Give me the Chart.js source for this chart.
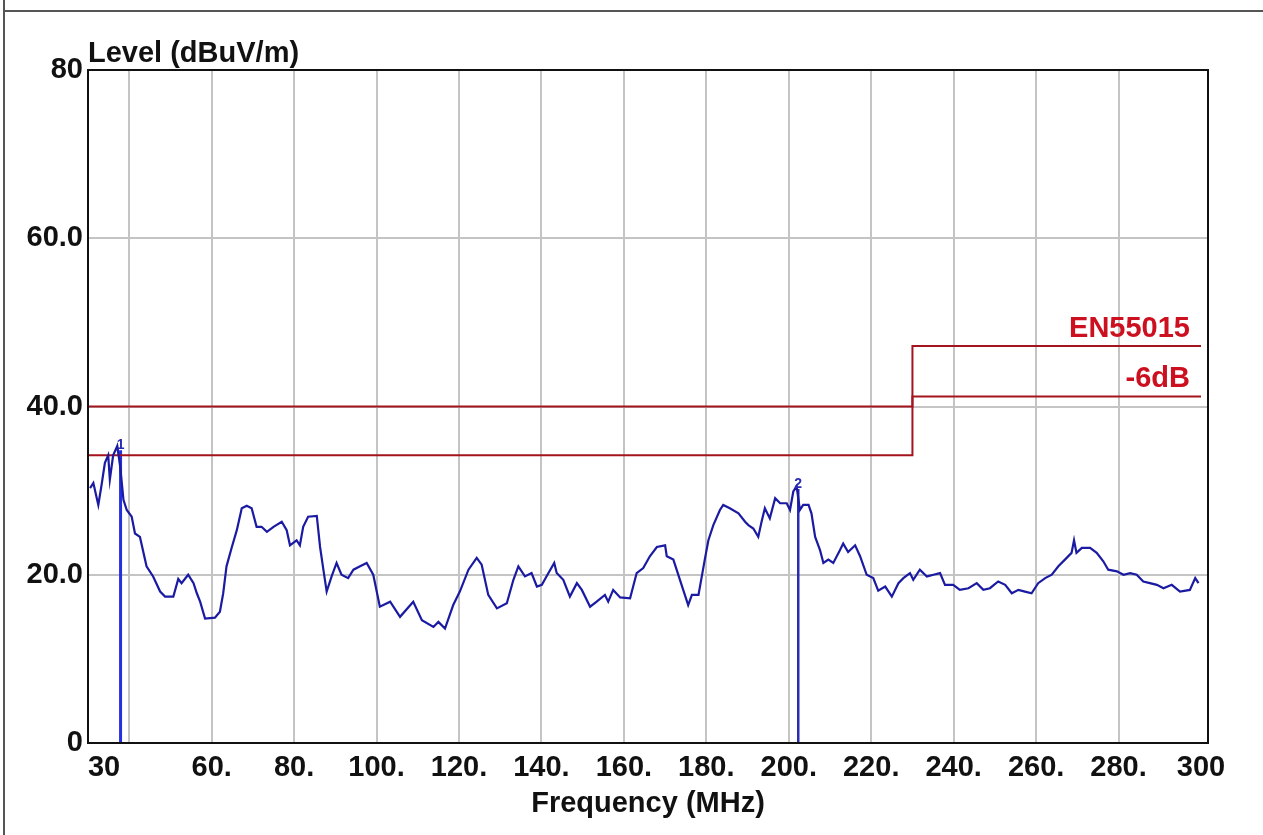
<!DOCTYPE html>
<html>
<head>
<meta charset="utf-8">
<script src="https://cdn.jsdelivr.net/npm/chart.js@4.4.1/dist/chart.umd.min.js"></script>
<style>
  html, body { margin: 0; padding: 0; background: #fff; }
  canvas { display: block; }
</style>
</head>
<body>
<canvas id="emc" width="1263" height="835"></canvas>
<script>
const freqMHz = [
  30.5, 31.3, 32.5, 33.3, 34.1, 34.9, 35.3, 36.1, 37.1, 37.8, 38.6, 39.4,
  40.6, 41.4, 42.6, 44.2, 45.8, 47.5, 48.7, 50.7, 51.9, 52.7, 54.3, 55.6,
  56.4, 57.2, 58.4, 60.8, 62.0, 62.8, 63.6, 64.9, 66.1, 67.3, 68.5, 69.7,
  70.9, 72.1, 73.4, 75.0, 77.0, 78.2, 79.0, 80.6, 81.4, 82.2, 83.4, 85.5,
  86.3, 87.1, 87.9, 89.1, 90.3, 91.5, 93.1, 94.4, 96.0, 97.6, 99.2, 100.8,
  103.3, 105.7, 108.9, 111.0, 113.8, 115.0, 116.6, 118.6, 120.2, 122.3, 124.3, 125.5,
  127.1, 129.2, 131.6, 133.2, 134.4, 136.0, 137.6, 138.9, 140.1, 141.7, 143.1, 143.7,
  145.3, 146.9, 148.6, 149.8, 151.8, 153.4, 155.4, 156.2, 157.4, 159.1, 161.5, 163.1,
  164.7, 166.3, 168.0, 170.0, 170.4, 172.0, 173.6, 175.6, 176.5, 178.1, 179.7, 180.5,
  181.7, 183.3, 184.1, 185.7, 187.8, 189.4, 190.2, 191.4, 192.6, 193.4, 194.2, 195.4,
  196.7, 197.9, 199.5, 200.3, 201.1, 201.9, 202.7, 203.5, 204.8, 205.5, 206.4, 207.6,
  208.4, 209.6, 210.8, 212.4, 213.2, 214.4, 216.1, 217.3, 218.9, 220.5, 221.7, 223.4,
  225.0, 226.6, 227.8, 229.4, 230.2, 231.8, 233.5, 235.1, 236.7, 237.9, 239.9, 241.5,
  243.6, 245.6, 247.2, 248.8, 250.8, 252.5, 254.1, 255.7, 257.3, 258.9, 260.5, 262.2,
  263.8, 265.4, 267.0, 268.6, 269.2, 269.8, 271.1, 273.1, 274.7, 276.3, 277.5, 279.6,
  281.2, 282.8, 284.4, 286.0, 287.6, 289.3, 290.9, 292.9, 294.9, 297.3, 298.6, 299.4
]
const levelDb = [
  30.3, 30.9, 28.3, 30.7, 33.3, 34.2, 31.3, 34.2, 35.3, 32.9, 28.9, 27.7,
  26.9, 24.9, 24.5, 21.0, 19.8, 18.0, 17.4, 17.4, 19.5, 19.0, 20.0, 19.0,
  17.8, 16.8, 14.8, 14.9, 15.6, 17.8, 21.0, 23.3, 25.3, 27.9, 28.2, 27.9,
  25.7, 25.7, 25.1, 25.7, 26.3, 25.3, 23.5, 24.1, 23.5, 25.7, 26.9, 27.0,
  23.3, 20.6, 18.0, 19.8, 21.4, 20.0, 19.6, 20.6, 21.0, 21.4, 20.0, 16.2,
  16.8, 15.0, 16.8, 14.6, 13.8, 14.4, 13.6, 16.4, 18.0, 20.6, 22.0, 21.2,
  17.6, 16.0, 16.6, 19.4, 21.0, 19.8, 20.2, 18.6, 18.8, 20.2, 21.4, 20.2,
  19.4, 17.4, 19.0, 18.2, 16.2, 16.8, 17.6, 16.8, 18.2, 17.3, 17.2, 20.2,
  20.8, 22.2, 23.3, 23.5, 22.2, 21.8, 19.4, 16.4, 17.6, 17.6, 22.0, 24.1,
  25.9, 27.7, 28.3, 27.9, 27.3, 26.3, 25.9, 25.5, 24.5, 26.3, 27.9, 26.7,
  29.1, 28.5, 28.5, 27.7, 29.9, 30.5, 27.7, 28.3, 28.3, 27.3, 24.5, 22.9,
  21.4, 21.8, 21.4, 22.9, 23.7, 22.7, 23.5, 22.2, 20.0, 19.6, 18.1, 18.6,
  17.4, 19.0, 19.6, 20.2, 19.4, 20.6, 19.8, 20.0, 20.2, 18.8, 18.8, 18.2,
  18.4, 19.0, 18.2, 18.4, 19.2, 18.8, 17.8, 18.2, 18.0, 17.8, 19.0, 19.6,
  20.0, 21.0, 21.8, 22.6, 24.1, 22.6, 23.2, 23.2, 22.6, 21.6, 20.6, 20.4,
  20.0, 20.2, 20.0, 19.2, 19.0, 18.8, 18.4, 18.8, 18.0, 18.2, 19.6, 19.0
]

// limit lines (step at 230 MHz)
const limitFreq = [30, 230, 300]
const limitEN55015 = [40, 47.2, 47.2]
const limitMinus6 = [34.2, 41.2, 41.2]
const limitNames = ['EN55015', '-6dB']

// peak markers
const markerFreq = [37.9, 202.3]
const markerLevel = [34.8, 30.2]
const markerNames = ['1', '2']

const xTickValues = [30, 40, 60, 80, 100, 120, 140, 160, 180, 200, 220, 240, 260, 280, 300]
const xTickLabels = ['    30', '', '60.', '80.', '100.', '120.', '140.', '160.', '180.', '200.', '220.', '240.', '260.', '280.', '300']
const yTickValues = [0, 20, 40, 60, 80]
const yTickLabels = ['0', '20.0', '40.0', '60.0', '80']

const FAMILY = '"Liberation Sans", Arial, sans-serif'
const SIZE = 29
const GRID = '#c4c4c4'

const toPoints = (xs, ys) => xs.map((x, i) => ({ x: x, y: ys[i] }))

const markerSets = markerFreq.map((f, i) => ({
    label: 'marker ' + markerNames[i],
    data: [{ x: f, y: markerLevel[i] }, { x: f, y: 0 }],
    borderColor: i === 0 ? '#2430e0' : '#2a2ab4',
    borderWidth: i === 0 ? 3 : 2.5,
    pointRadius: 0,
}))

const decorations = {
    id: 'decorations',
    beforeDraw(chart) {
        const ctx = chart.ctx
        ctx.save()
        ctx.fillStyle = '#fff'
        ctx.fillRect(0, 0, chart.width, chart.height)
        ctx.restore()
    },
    afterDatasetsDraw(chart) {
        const { ctx, chartArea: a, scales } = chart
        ctx.save()
        // outer page frame
        ctx.strokeStyle = '#555'
        ctx.lineWidth = 2
        ctx.beginPath()
        ctx.moveTo(4, 0)
        ctx.lineTo(4, chart.height)
        ctx.moveTo(4, 11)
        ctx.lineTo(chart.width, 11)
        ctx.stroke()
        // plot frame
        ctx.strokeStyle = '#111'
        ctx.lineWidth = 2
        ctx.strokeRect(a.left, a.top, a.right - a.left, a.bottom - a.top)

        // y axis title
        ctx.fillStyle = '#111'
        ctx.font = 'bold ' + SIZE + 'px ' + FAMILY
        ctx.textAlign = 'left'
        ctx.textBaseline = 'alphabetic'
        ctx.fillText('Level (dBuV/m)', a.left, a.top - 8)

        // limit labels
        ctx.fillStyle = '#cc1020'
        ctx.textAlign = 'right'
        const xr = scales.x.getPixelForValue(limitFreq[2]) - 11
        ctx.fillText(limitNames[0], xr, scales.y.getPixelForValue(limitEN55015[2]) - 9)
        ctx.fillText(limitNames[1], xr, scales.y.getPixelForValue(limitMinus6[2]) - 9)

        // marker numbers
        ctx.fillStyle = '#2a2ab4'
        ctx.textAlign = 'center'
        ctx.font = 'bold 14px ' + FAMILY
        markerFreq.forEach((f, i) => {
            ctx.fillText(markerNames[i], scales.x.getPixelForValue(f), scales.y.getPixelForValue(markerLevel[i]) - 1)
        })
        ctx.restore()
    }
}

new Chart(document.getElementById('emc'), {
    type: 'line',
    data: {
        datasets: [
            {
                label: 'Level',
                data: toPoints(freqMHz, levelDb),
                borderColor: '#1a1aa2',
                borderWidth: 2.2,
                pointRadius: 0,
                tension: 0,
            },
            {
                label: limitNames[0],
                data: toPoints(limitFreq, limitEN55015),
                borderColor: '#a3141e',
                borderWidth: 2,
                pointRadius: 0,
                stepped: true,
            },
            {
                label: limitNames[1],
                data: toPoints(limitFreq, limitMinus6),
                borderColor: '#a3141e',
                borderWidth: 2,
                pointRadius: 0,
                stepped: true,
            },
            ...markerSets
        ]
    },
    options: {
        responsive: false,
        animation: false,
        devicePixelRatio: 1,
        layout: { padding: { left: 0, right: 55, top: 70, bottom: 0 } },
        plugins: {
            legend: { display: false },
            tooltip: { enabled: false },
            title: { display: false },
        },
        scales: {
            x: {
                type: 'linear',
                min: 30,
                max: 301.7,
                afterBuildTicks: scale => { scale.ticks = xTickValues.map(v => ({ value: v })) },
                afterFit: scale => { scale.height = 92 },
                border: { display: false },
                grid: {
                    drawTicks: false,
                    lineWidth: 2,
                    color: c => (c.tick && (c.tick.value === 30 || c.tick.value === 300)) ? 'rgba(0,0,0,0)' : GRID,
                },
                ticks: {
                    autoSkip: false,
                    maxRotation: 0,
                    padding: 8,
                    color: '#111',
                    font: { family: FAMILY, size: SIZE, weight: 'bold' },
                    callback: (v, i) => xTickLabels[xTickValues.indexOf(v)],
                },
                title: {
                    display: true,
                    text: 'Frequency (MHz)',
                    color: '#111',
                    font: { family: FAMILY, size: SIZE, weight: 'bold' },
                    padding: { top: 0, bottom: 14 },
                },
            },
            y: {
                type: 'linear',
                min: 0,
                max: 80,
                afterBuildTicks: scale => { scale.ticks = yTickValues.map(v => ({ value: v })) },
                afterFit: scale => { scale.width = 88 },
                border: { display: false },
                grid: {
                    drawTicks: false,
                    lineWidth: 2,
                    color: c => (c.tick && (c.tick.value === 0 || c.tick.value === 80)) ? 'rgba(0,0,0,0)' : GRID,
                },
                ticks: {
                    padding: 5,
                    color: '#111',
                    font: { family: FAMILY, size: SIZE, weight: 'bold' },
                    callback: v => yTickLabels[yTickValues.indexOf(v)],
                },
            },
        },
    },
    plugins: [decorations],
})
</script>
</body>
</html>
